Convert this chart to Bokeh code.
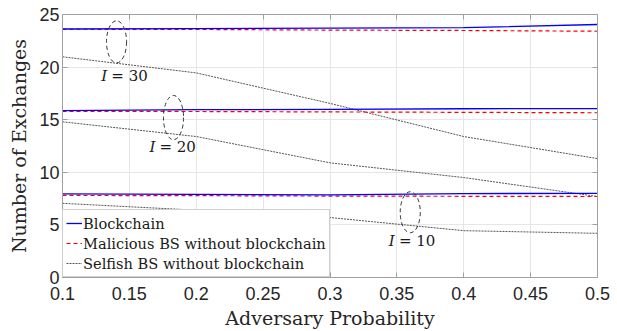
from bokeh.plotting import figure
from bokeh.models import FixedTicker, LinearAxis, Legend, LegendItem, Range1d, CustomJSTickFormatter
from bokeh.core.properties import value
from bokeh.embed import file_html
from bokeh.resources import INLINE

# ---- data ----
adv_prob = [0.1, 0.2, 0.3, 0.4, 0.5]
x_tick_vals = [0.1, 0.15, 0.2, 0.25, 0.3, 0.35, 0.4, 0.45, 0.5]
x_tick_labels = ["0.1", "0.15", "0.2", "0.25", "0.3", "0.35", "0.4", "0.45", "0.5"]
y_tick_vals = [0, 5, 10, 15, 20, 25]

blockchain_30 = [23.62, 23.65, 23.7, 23.75, 24.05]
malicious_30 = [23.6, 23.58, 23.52, 23.48, 23.41]
selfish_30 = [20.98, 19.45, 16.55, 13.4, 11.3]

blockchain_20 = [15.87, 15.95, 15.98, 16.04, 16.06]
malicious_20 = [15.8, 15.78, 15.74, 15.7, 15.66]
selfish_20 = [14.8, 13.4, 10.9, 9.5, 7.7]

blockchain_10 = [7.95, 7.9, 7.85, 7.98, 8.0]
malicious_10 = [7.8, 7.78, 7.74, 7.72, 7.7]
selfish_10 = [7.05, 6.4, 5.7, 4.45, 4.2]

group_labels = ["30", "20", "10"]
ellipse_x = [0.1404, 0.183, 0.360]
ellipse_y = [22.4, 15.2, 6.2]
label_x = [0.129, 0.165, 0.344]
label_y = [19.2, 12.4, 3.5]

SERIF = "DejaVu Serif"

p = figure(output_backend="svg", toolbar_location=None,
           x_range=Range1d(0.1, 0.5), y_range=Range1d(0, 25),
           frame_width=535, frame_height=263,
           min_border_left=62, min_border_top=14, min_border_right=16, min_border_bottom=52)
p.outline_line_color = "#a0a0a0"
p.outline_line_width = 1
p.background_fill_color = "white"
p.border_fill_color = "white"

p.xaxis.ticker = FixedTicker(ticks=x_tick_vals)
p.xaxis.major_label_overrides = {v: s for v, s in zip(x_tick_vals, x_tick_labels)}
p.yaxis.ticker = FixedTicker(ticks=y_tick_vals)

for ax in [p.xaxis[0], p.yaxis[0]]:
    ax.axis_line_color = "#a0a0a0"
    ax.major_tick_line_color = "#a0a0a0"
    ax.major_tick_in = 5
    ax.major_tick_out = 0
    ax.minor_tick_line_color = None
    ax.major_label_text_font = "Liberation Sans"
    ax.major_label_text_font_size = "18px"
    ax.major_label_text_color = "#262626"
    ax.axis_label_text_font = SERIF
    ax.axis_label_text_font_size = "19px"
    ax.axis_label_text_font_style = "normal"
    ax.axis_label_text_color = "#262626"
p.xaxis.axis_label = "Adversary Probability"
p.yaxis.axis_label = "Number of Exchanges"
p.xaxis.major_label_standoff = 9
p.yaxis.major_label_standoff = 3
p.xaxis.axis_label_standoff = 4
p.yaxis.axis_label_standoff = 6

blank = CustomJSTickFormatter(code="return ''")
top = LinearAxis(ticker=FixedTicker(ticks=x_tick_vals), formatter=blank,
                 axis_line_color="#a0a0a0", major_tick_line_color="#a0a0a0",
                 major_tick_in=5, major_tick_out=0, minor_tick_line_color=None,
                 major_label_standoff=0)
right = LinearAxis(ticker=FixedTicker(ticks=y_tick_vals), formatter=blank,
                   axis_line_color="#a0a0a0", major_tick_line_color="#a0a0a0",
                   major_tick_in=5, major_tick_out=0, minor_tick_line_color=None,
                   major_label_standoff=0)
p.add_layout(top, "above")
p.add_layout(right, "right")

p.grid.grid_line_color = "#e6e6e6"
p.grid.grid_line_width = 1

b_r = []
m_r = []
s_r = []
for b, m, s in [(blockchain_30, malicious_30, selfish_30),
                (blockchain_20, malicious_20, selfish_20),
                (blockchain_10, malicious_10, selfish_10)]:
    s_r.append(p.line(adv_prob, s, line_color="#555555", line_width=1, line_dash="2 1"))
    m_r.append(p.line(adv_prob, m, line_color="#ff0000", line_width=1.2, line_dash="4 3"))
    b_r.append(p.line(adv_prob, b, line_color="#0000ff", line_width=1.3))

p.ellipse(x=ellipse_x, y=ellipse_y, width=[0.015, 0.015, 0.015], height=[4.0, 4.2, 3.9],
          fill_alpha=0, line_color="#333333", line_dash="4 3", line_width=1)

p.text(x=label_x, y=label_y, text=["I", "I", "I"], text_font=value(SERIF),
       text_font_style="italic", text_font_size="15px", text_color="#1a1a1a",
       text_align="left", text_baseline="middle")
p.text(x=[v + 0.0075 for v in label_x], y=label_y, text=["= " + g for g in group_labels],
       text_font=value(SERIF), text_font_size="15px", text_color="#1a1a1a",
       text_align="left", text_baseline="middle")

legend = Legend(items=[LegendItem(label="Blockchain", renderers=[b_r[0]]),
                       LegendItem(label="Malicious BS without blockchain", renderers=[m_r[0]]),
                       LegendItem(label="Selfish BS without blockchain", renderers=[s_r[0]])],
                location="bottom_left")
legend.margin = 0
legend.padding = 3
legend.spacing = 0
legend.glyph_width = 16
legend.glyph_height = 20
legend.label_standoff = 1
legend.label_text_font = SERIF
legend.label_text_font_size = "14.6px"
legend.label_text_color = "#1a1a1a"
legend.border_line_color = "#a0a0a0"
legend.border_line_width = 1
legend.background_fill_alpha = 1
p.add_layout(legend)

open("out.html", "w").write(file_html(p, INLINE))
